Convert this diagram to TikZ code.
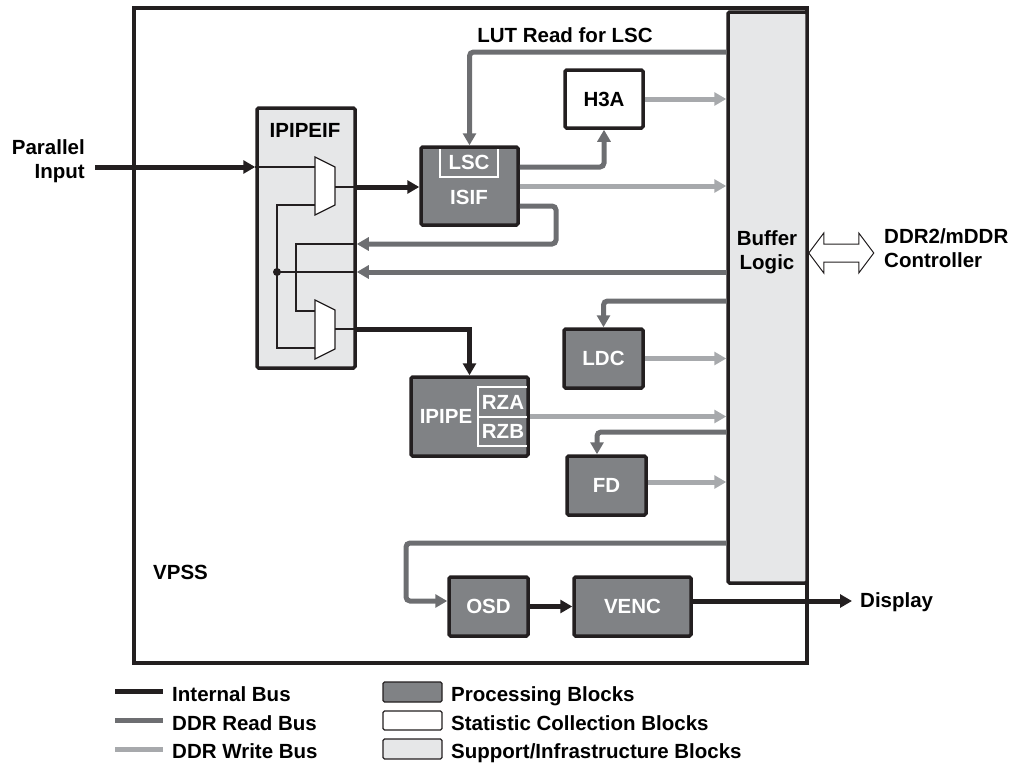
\documentclass[tikz,border=0pt]{standalone}
\usepackage{fontspec}
\setmainfont{Liberation Sans}
\usetikzlibrary{arrows.meta, positioning, calc}
\definecolor{inkblack}{RGB}{35,31,32}
\definecolor{procgray}{RGB}{128,130,133}
\definecolor{readgray}{RGB}{109,110,113}
\definecolor{writegray}{RGB}{167,169,172}
\definecolor{suppgray}{RGB}{230,231,232}
\tikzset{
  blk/.style={draw=inkblack, line width=3.5pt, rounded corners=1.5pt, inner sep=0pt},
  procblk/.style={blk, fill=procgray, text=white},
  statblk/.style={blk, fill=white},
  suppblk/.style={blk, fill=suppgray},
  ibus/.style={line width=5pt, inkblack},
  rbus/.style={line width=5pt, readgray, rounded corners=4pt},
  wbus/.style={line width=5pt, writegray},
  arr/.style={-{Triangle[length=12pt,width=13pt]}},
  thinline/.style={line width=1.2pt, inkblack},
  lbl/.style={inner sep=0pt},
}

\begin{document}
\begin{tikzpicture}[x=1pt, y=-1pt, font=\fontsize{20.5}{24}\selectfont\bfseries]
        \useasboundingbox (0,0) rectangle (1021,763);

        % VPSS frame and buffer logic
        \node[draw=inkblack, line width=4pt, minimum width=673pt, minimum height=655pt, inner sep=0pt] (vpss) at (470.5,335.5) {};
        \node[suppblk, minimum width=79pt, minimum height=571pt] (buf) at (767.5,297.5) {};
        \node[lbl, align=center] (buftxt) at (767,252) {Buffer\\Logic};
        \node[lbl, anchor=west] (vpsstxt) at (153,572) {VPSS};

        % Blocks
        \node[statblk, minimum width=78pt, minimum height=58pt] (h3a) at (604,99) {H3A};
        \node[procblk, minimum width=97pt, minimum height=78pt] (isif) at (469.5,186) {};
        \node[lbl, text=white] (isiftxt) at (469,197) {ISIF};
        \node[lbl, text=white] (lsctxt) at (469,162) {LSC};
        \node[suppblk, minimum width=98pt, minimum height=260pt] (ipif) at (306,238) {};
        \node[lbl] (ipiftxt) at (305,130) {IPIPEIF};
        \node[procblk, minimum width=117pt, minimum height=79pt] (ipipe) at (469.5,416.5) {};
        \node[lbl, text=white] (ipipetxt) at (446,416) {IPIPE};
        \node[lbl, text=white] (rzatxt) at (503,402) {RZA};
        \node[lbl, text=white] (rzbtxt) at (503,431) {RZB};
        \node[procblk, minimum width=79pt, minimum height=59pt] (ldc) at (603.5,358.5) {LDC};
        \node[procblk, minimum width=79pt, minimum height=59pt] (fd) at (606.5,485.5) {FD};
        \node[procblk, minimum width=79pt, minimum height=59pt] (osd) at (488.5,606.5) {OSD};
        \node[procblk, minimum width=117pt, minimum height=59pt] (venc) at (632.5,606.5) {VENC};

        % Sub-blocks
        \draw[white, line width=1.5pt] (440,149) -- (440,177) -- (498,177) -- (498,149);
        \draw[white, line width=1.5pt] (527,387) -- (478,387) -- (478,446) -- (527,446) (478,417) -- (527,417);

        % Outside labels
        \node[lbl, align=right, anchor=east] (pin) at (85,161) {Parallel\\Input};
        \node[lbl, align=left, anchor=west] (ddr) at (884,248) {DDR2/mDDR\\Controller};
        \node[lbl, anchor=west] (disp) at (860,602) {Display};
        \node[lbl] (lut) at (565,35) {LUT Read for LSC};
        \coordinate (pinend) at (95,167);

        % Muxes
        \draw[thinline, fill=white] (315,157) -- (335,167) -- (335,205) -- (315,215) -- cycle;
        \draw[thinline, fill=white] (315,300) -- (335,310) -- (335,349) -- (315,359) -- cycle;
        \draw[thinline] (ipif.west |- 0,167) -- (315,167);
        \draw[thinline] (315,205) -| (277,348) -- (315,348);
        \draw[thinline] (277,272) -- (ipif.east |- 0,272);
        \draw[thinline] (ipif.east |- 0,244) -| (296,311) -- (315,311);
        \draw[thinline] (335,187) -- (ipif.east |- 0,187);
        \draw[thinline] (335,329) -- (ipif.east |- 0,329);
        \fill[inkblack] (277,272) circle (4pt);

        % Internal bus
        \draw[ibus, arr] (pinend) -- (ipif.west |- pinend);
        \draw[ibus, arr] (ipif.east |- 0,187) -- (isif.west |- 0,187);
        \draw[ibus, arr] (ipif.east |- 0,329) -| (ipipe.north);
        \draw[ibus, arr] (osd) -- (venc);
        \draw[ibus, arr] (venc.east |- 0,601) -- ([xshift=-8pt]disp.west |- 0,601);

        % DDR read bus
        \draw[rbus, arr] (buf.west |- 0,52) -| (isif.north);
        \draw[rbus, arr] (isif.east |- 0,167) -| (h3a.south);
        \draw[rbus, arr] (isif.east |- 0,206) -| (556,244) -- (ipif.east |- 0,244);
        \draw[rbus, arr] (buf.west |- 0,272) -- (ipif.east |- 0,272);
        \draw[rbus, arr] (buf.west |- 0,301) -| (ldc.north);
        \draw[rbus, arr] (buf.west |- 0,432) -| ([xshift=-9.5pt]fd.north);
        \draw[rbus, arr] (buf.west |- 0,543) -| (406,601) -- (osd.west |- 0,601);

        % DDR write bus
        \draw[wbus, arr] (h3a) -- (h3a -| buf.west);
        \draw[wbus, arr] (isif.east |- 0,186) -- (buf.west |- 0,186);
        \draw[wbus, arr] (ipipe) -- (ipipe -| buf.west);
        \draw[wbus, arr] (ldc) -- (ldc -| buf.west);
        \draw[wbus, arr] (fd.east |- 0,482) -- (buf.west |- 0,482);

        % DDR2 link
        \draw[inkblack, line width=1pt, fill=white] (buf.east |- 0,253) -- ++(15,-20) -- ++(0,11) -- ++(35,0) -- ++(0,-11) -- ++(15,20) -- ++(-15,20) -- ++(0,-11) -- ++(-35,0) -- ++(0,11) -- cycle;

        % Legend
        \draw[ibus] (115,691) -- (163,691);
        \draw[rbus] (115,720) -- (163,720);
        \draw[wbus] (115,749) -- (163,749);
        \node[lbl, anchor=base west] (legint) at (172,701) {Internal Bus};
        \node[lbl, anchor=base west] (legread) at (172,730) {DDR Read Bus};
        \node[lbl, anchor=base west] (legwrite) at (172,758) {DDR Write Bus};
        \node[procblk, line width=1.2pt, minimum width=59pt, minimum height=20pt] (legproc) at (412.5,692) {};
        \node[statblk, line width=1.2pt, minimum width=59pt, minimum height=19pt] (legstat) at (412.5,720.5) {};
        \node[suppblk, line width=1.2pt, minimum width=59pt, minimum height=20pt] (legsupp) at (412.5,749) {};
        \node[lbl, anchor=base west] (legproctxt) at (451,701) {Processing Blocks};
        \node[lbl, anchor=base west] (legstattxt) at (451,730) {Statistic Collection Blocks};
        \node[lbl, anchor=base west] (legsupptxt) at (451,758) {Support/Infrastructure Blocks};
    \end{tikzpicture}
\end{document}
